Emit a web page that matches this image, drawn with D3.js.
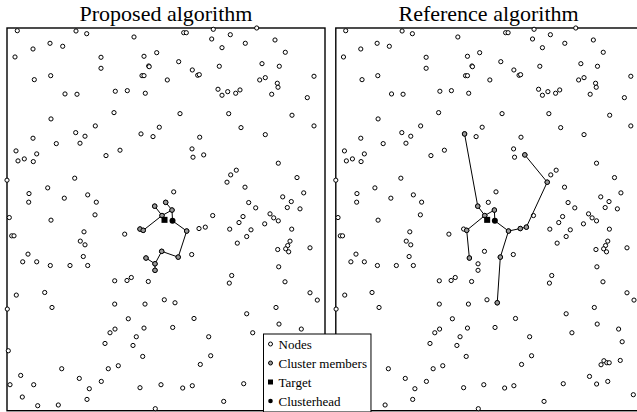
<!DOCTYPE html>
<html><head><meta charset="utf-8">
<script src="https://cdn.jsdelivr.net/npm/d3@7"></script>
<style>body{margin:0;background:#fff;overflow:hidden}</style>
</head><body><svg id="c" width="637" height="412"></svg>
<script>
// Field extent (sensor field units)
const fieldW = 318, fieldH = 383;
const titles = ["Proposed algorithm", "Reference algorithm"];
const legendLabels = ["Nodes", "Cluster members", "Target", "Clusterhead"];

// All deployed nodes [x, y]
const nodes = [
[10.3,380.3],[69,380],[79.7,377.3],[127,374],[43,367.7],[55.7,364.7],[26,362],[8,354],[94,353.7],[137,354.7],[149.7,358.3],[141.7,345],[142.2,344.3],[94,342.7],[43.7,335.3],[27.3,331.3],[135,335.3],[137,335.3],[160.3,331],[58,317],[70,316.7],[108.3,319.7],[120.3,320.3],[138.3,317.7],[107,298.3],[44,292],[88.3,285],[68.7,278.3],[78,274.7],[152.3,283.7],[134,277],[146,274.3],[26,272.7],
[176.7,378.3],[179.3,378.3],[206.3,381.7],[249.7,383],[204.7,372],[223.3,376.3],[215,363.3],[238.3,367.7],[268,371],[278.3,358.7],[171.7,349.3],[185.3,341],[190.7,335.7],[192.3,336.3],[212.3,344.7],[255,347.3],[272.3,344.7],[252.7,331],[258.3,333.3],[270.3,327.7],[271,323.7],[307,334.7],[211,321.7],[215,315.7],[220.7,319.3],[228.7,317.7],[233,321],[264.7,316.7],[300.3,313.3],[173,297.3],[221.7,297.3],[285,295.7],[234,283.3],[307,285],[192.7,273.7],[258.3,276.3],
[49.3,267.3],[73,267.7],[9,260],[29.7,257],[11,250],[17.3,252],[26.3,249.3],[99,255.3],[113,260.7],[0,230.7],[67.7,232.7],[40.7,223],[22,217.3],[21.7,208.7],[57.3,212.7],[80.7,216],[89.3,208.7],[2.3,193.3],[44,190.7],[88,196],[4.7,175],[7,175],[77,179],[73.3,169.7],[78,166],[117.7,176.7],[21,156.7],[15.7,149],[29.7,149],[43.3,145.3],[63,145.3],[80.7,145.3],[76.3,154.3],
[185,262],[186,253.7],[196.7,256],[271.3,247.7],[229.3,240.7],[223.7,236],[220,228.7],[290,233.3],[166.7,219],[238,223.7],[296.7,218],[275.7,214],[284.3,209.3],[280.3,203.3],[293,202],[241.7,208.3],[248.7,203],[205.7,195.3],[236,194.3],[232,188.3],[263,197],[266.7,193],[271.3,190],[257.7,187],[192,182.3],[198.3,183.7],[222.7,181.7],[244,181],[239.7,174.3],[284.7,181.7],[230.3,167.7],[283,169.7],[280.7,165.3],[278.7,162],[281.7,159],[270.7,161.3],[303,163],[184.7,156.3],[271.7,144],
[107.7,130],[120,130.3],[124.3,133.3],[141.3,129.3],[9.3,115.7],[37.7,118.3],[0.3,101.7],[45,103.3],[107.7,106.7],[138,106.7],[157.3,111],[121.3,92],[108,81.7],[103,78],[137,82.7],[129.3,74],[98,67.3],[126,65.3],[1.3,60],[135.7,54.3],[13.7,35.3],[54.7,42],[101.3,42],[111.3,45],[3,26],[26.7,26],[72.3,32.3],[94.3,29.3],[82.3,22],[133,23],[154,26],[15.3,13.7],[80,11.3],[30.7,5],[51.3,5.7],[148.3,2],
[224.7,135.3],[222.3,127.7],[278,129],[303,118],[310.3,110.7],[168,108],[269,103.3],[239.7,97],[187,92.3],[165.7,83.3],[272,86.7],[294.3,81.7],[245.7,78],[201.7,74],[203.7,55],[193.3,46.3],[175.7,22.7],[185.3,25],[236.7,27],[216.7,9.3],
[298,69],[279,50],[276,46],[282,48],[284.5,48],[296,50.3],[264,34.3],[271.4,26.7],[283,29.3],[309.6,16],
[147.7,204.7],[158.7,208.5],[165,200.8],[155,195.3],[133,181.8],[136.2,180.5],[179.7,179.8],[154.7,159.5],[171.2,153.7],[139,152.8],[148,147],[148,140.5]
];

const target = [157.5, 191];
const clusterhead = [165.5, 190];

// Proposed algorithm: cluster members and tree links (-1 = clusterhead)
const membersLeft = [[147.7,204.7],[158.7,208.5],[165,200.8],[155,195.3],[133,181.8],[136.2,180.5],[179.7,179.8],[154.7,159.5],[171.2,153.7],[139,152.8],[148,147],[148,140.5]];
const edgesLeft = [[-1,2],[2,1],[2,3],[3,0],[3,5],[5,4],[-1,6],[6,8],[8,7],[7,10],[9,10],[10,11]];

// Reference algorithm
const membersRight = [[134,277],[147.7,204.7],[155,195.3],[165,200.8],[136.2,180.5],[139,152.8],[179.7,179.8],[192,182.3],[198.3,183.7],[220,228.7],[196.7,256],[171.2,153.7],[168,108]];
const edgesRight = [[-1,3],[3,2],[2,1],[1,0],[2,4],[4,5],[-1,6],[6,7],[7,8],[8,9],[9,10],[6,11],[11,12]];

const svg = d3.select("#c");
const y = d3.scaleLinear().domain([0, fieldH]).range([410.7, 28]);
const panels = [
  {title: titles[0], x: d3.scaleLinear().domain([0, fieldW]).range([7, 325]), members: membersLeft, edges: edgesLeft},
  {title: titles[1], x: d3.scaleLinear().domain([0, fieldW]).range([335.8, 641.4]), members: membersRight, edges: edgesRight}
];

const R = 2.1;
panels.forEach(p => {
  const g = svg.append("g");
  const x = p.x;
  g.append("rect")
    .attr("x", x(0)).attr("y", y(fieldH))
    .attr("width", x(fieldW) - x(0)).attr("height", y(0) - y(fieldH))
    .attr("fill", "none").attr("stroke", "#000").attr("stroke-width", 1.4);
  g.append("text")
    .attr("x", (x(0) + x(fieldW)) / 2).attr("y", 21)
    .attr("text-anchor", "middle")
    .attr("font-family", "Liberation Serif, Times New Roman, serif")
    .attr("font-size", 22).text(p.title);
  g.selectAll("circle.node").data(nodes).join("circle").attr("class", "node")
    .attr("cx", d => x(d[0])).attr("cy", d => y(d[1])).attr("r", R)
    .attr("fill", "#fff").attr("stroke", "#000").attr("stroke-width", 1);
  const pt = i => i === -1 ? clusterhead : p.members[i];
  g.selectAll("line.edge").data(p.edges).join("line").attr("class", "edge")
    .attr("x1", d => x(pt(d[0])[0])).attr("y1", d => y(pt(d[0])[1]))
    .attr("x2", d => x(pt(d[1])[0])).attr("y2", d => y(pt(d[1])[1]))
    .attr("stroke", "#000").attr("stroke-width", 1);
  g.selectAll("circle.mem").data(p.members).join("circle").attr("class", "mem")
    .attr("cx", d => x(d[0])).attr("cy", d => y(d[1])).attr("r", R + 0.2)
    .attr("fill", "#9a9a9a").attr("stroke", "#000").attr("stroke-width", 1);
  g.append("rect")
    .attr("x", x(target[0]) - 3).attr("y", y(target[1]) - 3)
    .attr("width", 6).attr("height", 6).attr("fill", "#000");
  g.append("circle")
    .attr("cx", x(clusterhead[0])).attr("cy", y(clusterhead[1])).attr("r", 3)
    .attr("fill", "#000");
});

// Legend
const lg = svg.append("g");
const box = lg.append("rect").attr("x", 263.5).attr("y", 334).attr("height", 78)
  .attr("fill", "#fff").attr("stroke", "#000").attr("stroke-width", 1);
const rowY = [344, 363, 382, 401];
let maxW = 0;
legendLabels.forEach((lab, i) => {
  const t = lg.append("text").attr("x", 278.5).attr("y", rowY[i] + 4.5)
    .attr("font-family", "Liberation Serif, Times New Roman, serif")
    .attr("font-size", 13).text(lab);
  maxW = Math.max(maxW, t.node().getComputedTextLength());
  const cx = 270.5, cy = rowY[i];
  if (i === 0) lg.append("circle").attr("cx", cx).attr("cy", cy).attr("r", 2).attr("fill", "#fff").attr("stroke", "#000");
  if (i === 1) lg.append("circle").attr("cx", cx).attr("cy", cy).attr("r", 2).attr("fill", "#9a9a9a").attr("stroke", "#000");
  if (i === 2) lg.append("rect").attr("x", cx - 2.5).attr("y", cy - 2.5).attr("width", 5).attr("height", 5).attr("fill", "#000");
  if (i === 3) lg.append("circle").attr("cx", cx).attr("cy", cy).attr("r", 2.3).attr("fill", "#000");
});
box.attr("width", 278.5 + maxW + 4 - 263.5);
</script></body></html>
